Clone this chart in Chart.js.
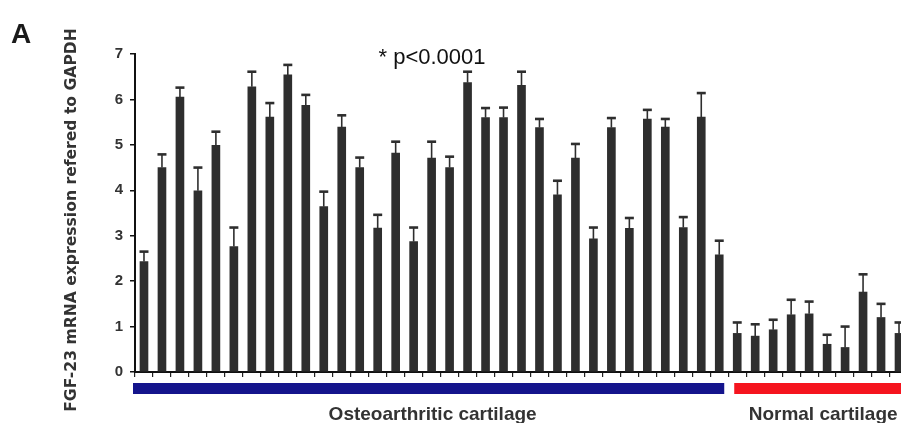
<!DOCTYPE html>
<html>
<head>
<meta charset="utf-8">
<title>FGF-23 mRNA expression</title>
<script src="https://cdn.jsdelivr.net/npm/chart.js@4.4.1/dist/chart.umd.min.js"></script>
<style>
  html, body { margin: 0; padding: 0; background: #fff; overflow: hidden; }
  #wrap { width: 901px; height: 423px; overflow: hidden; position: relative; }
  #fgfChart { display: block; }
</style>
</head>
<body>
<div id="wrap"><canvas id="fgfChart" width="908" height="423"></canvas></div>
<script>
// values (mean, and the height of the SD whisker above the bar)
const osteoValues = [2.43, 4.50, 6.05, 3.99, 4.99, 2.76, 6.28, 5.61, 6.54, 5.87, 3.64, 5.39, 4.50, 3.17,
  4.82, 2.87, 4.71, 4.50, 6.37, 5.60, 5.60, 6.31, 5.38, 3.90, 4.71, 2.93, 5.38, 3.16, 5.57, 5.39, 3.18, 5.61, 2.58];
const osteoErrors = [0.22, 0.29, 0.21, 0.51, 0.30, 0.42, 0.33, 0.31, 0.22, 0.23, 0.33, 0.26, 0.22, 0.29,
  0.25, 0.31, 0.36, 0.24, 0.24, 0.21, 0.22, 0.30, 0.19, 0.31, 0.31, 0.25, 0.21, 0.23, 0.20, 0.18, 0.23, 0.53, 0.31];
const normalValues = [0.85, 0.79, 0.93, 1.26, 1.28, 0.61, 0.54, 1.76, 1.20, 0.85];
const normalErrors = [0.24, 0.26, 0.22, 0.33, 0.27, 0.21, 0.46, 0.39, 0.30, 0.24];

const groupNames = ['Osteoarthritic cartilage', 'Normal cartilage'];
const groupColors = ['#14148c', '#f5141e'];
const yTicks = [0, 1, 2, 3, 4, 5, 6, 7];
const yTitle = 'FGF-23 mRNA expression refered to GAPDH';
const panelLetter = 'A';
const pValueNote = '* p<0.0001';

const allValues = osteoValues.concat(normalValues);
const allErrors = osteoErrors.concat(normalErrors);
const groupSizes = [osteoValues.length, normalValues.length];
const sampleLabels = allValues.map((_, i) =>
  i < groupSizes[0] ? `OA ${i + 1}` : `N ${i - groupSizes[0] + 1}`);

const INK = '#2e2e2e';

// SD whiskers drawn on top of each bar
const errorBarPlugin = {
  id: 'errorBars',
  afterDatasetsDraw(chart) {
    const { ctx } = chart;
    const yScale = chart.scales.y;
    const meta = chart.getDatasetMeta(0);
    ctx.save();
    ctx.strokeStyle = INK;
    meta.data.forEach((bar, i) => {
      const top = yScale.getPixelForValue(allValues[i] + allErrors[i]);
      ctx.lineWidth = 1.6;
      ctx.beginPath();
      ctx.moveTo(bar.x, bar.y);
      ctx.lineTo(bar.x, top);
      ctx.stroke();
      ctx.lineWidth = 2.6;
      ctx.beginPath();
      ctx.moveTo(bar.x - 4.5, top);
      ctx.lineTo(bar.x + 4.5, top);
      ctx.stroke();
    });
    ctx.restore();
  }
};

// coloured group strips under the axis + their captions, y title, panel letter and p note
const decorPlugin = {
  id: 'decor',
  afterDraw(chart) {
    const { ctx, chartArea } = chart;
    const x = chart.scales.x;
    const half = (x.getPixelForValue(1) - x.getPixelForValue(0)) / 2;
    const padLeft = [-2, 6];
    const padRight = 4;
    let start = 0;
    ctx.save();
    groupSizes.forEach((size, g) => {
      const left = x.getPixelForValue(start) - half + padLeft[g];
      const right = x.getPixelForValue(start + size - 1) + half - padRight;
      ctx.fillStyle = groupColors[g];
      ctx.fillRect(left, chartArea.bottom + 11, right - left, 11);
      ctx.fillStyle = '#333';
      ctx.font = 'bold 19px "Liberation Sans", Arial, sans-serif';
      ctx.textAlign = 'center';
      ctx.textBaseline = 'alphabetic';
      ctx.fillText(groupNames[g], (left + right) / 2 + 4, chartArea.bottom + 48);
      start += size;
    });

    // rotated axis title, sits a little below the middle of the plot in the original
    ctx.save();
    ctx.translate(72, (chartArea.top + chartArea.bottom) / 2 + 7);
    ctx.rotate(-Math.PI / 2);
    ctx.fillStyle = '#333';
    ctx.font = 'bold 15.6px "DejaVu Sans", sans-serif';
    ctx.textAlign = 'center';
    ctx.textBaseline = 'middle';
    ctx.fillText(yTitle, 0, 0);
    ctx.restore();

    ctx.fillStyle = '#1a1a1a';
    ctx.font = 'bold 28px "Liberation Sans", Arial, sans-serif';
    ctx.textAlign = 'left';
    ctx.fillText(panelLetter, 11, 43);

    ctx.fillStyle = '#111';
    ctx.font = '22px "Liberation Sans", Arial, sans-serif';
    ctx.textAlign = 'center';
    ctx.fillText(pValueNote, 432, 64);
    ctx.restore();
  }
};

function initChart() {
  try {
    const el = document.getElementById('fgfChart');
    if (!el) return;
    new Chart(el, {
      type: 'bar',
      data: {
        labels: sampleLabels,
        datasets: [
          {
            label: 'FGF-23 / GAPDH',
            data: allValues,
            backgroundColor: INK,
            borderWidth: 0,
            barThickness: 8,
          }
        ]
      },
      options: {
        responsive: false,
        animation: false,
        layout: { padding: { left: 60, top: 54, right: 0, bottom: 0 } },
        plugins: {
          legend: { display: false },
          tooltip: { enabled: false }
        },
        scales: {
          x: {
            offset: true,
            grid: { offset: true, drawOnChartArea: false, tickLength: 5, color: '#222', lineWidth: 1.2 },
            border: { color: '#111', width: 2 },
            ticks: { display: false },
            afterFit(scale) { scale.height = 51; }
          },
          y: {
            min: 0,
            max: yTicks[yTicks.length - 1],
            afterBuildTicks(scale) { scale.ticks = yTicks.map(v => ({ value: v })); },
            grid: { drawOnChartArea: false, tickLength: 5, color: '#111', lineWidth: 1.5 },
            border: { color: '#111', width: 2 },
            ticks: {
              color: '#333',
              padding: 7,
              font: { family: '"Liberation Sans", Arial, sans-serif', size: 15, weight: 'bold' }
            },
            afterFit(scale) { scale.width = 75; }
          }
        }
      },
      plugins: [errorBarPlugin, decorPlugin]
    });
  } catch (e) {
    console.warn('Chart init skipped:', e?.message || e);
  }
}

document.addEventListener('DOMContentLoaded', initChart);
</script>
</body>
</html>
